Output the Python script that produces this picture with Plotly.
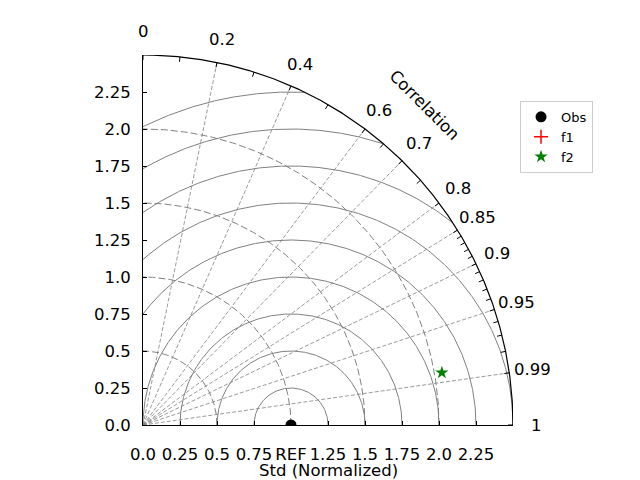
import numpy as np
import plotly.graph_objects as go

# ---------------- data ----------------
model_names = ["Obs", "f1", "f2"]
model_std = [1.0, 2.75, 2.05]
model_corr = [1.0, 0.96, 0.985]
model_colors = ["black", "red", "green"]
model_symbols = ["circle", "cross-thin", "star"]

std_ticks = [0.0, 0.25, 0.5, 0.75, 1.0, 1.25, 1.5, 1.75, 2.0, 2.25]
x_tick_labels = ["0.0", "0.25", "0.5", "0.75", "REF", "1.25", "1.5", "1.75", "2.0", "2.25"]
y_tick_labels = ["0.0", "0.25", "0.5", "0.75", "1.0", "1.25", "1.5", "1.75", "2.0", "2.25"]

corr_major = [0.0, 0.2, 0.4, 0.6, 0.7, 0.8, 0.85, 0.9, 0.95, 0.99, 1.0]
corr_labels = ["0", "0.2", "0.4", "0.6", "0.7", "0.8", "0.85", "0.9", "0.95", "0.99", "1"]
corr_grid = [0.2, 0.4, 0.6, 0.7, 0.8, 0.85, 0.9, 0.95, 0.99]
corr_minor = [0.1, 0.3, 0.5, 0.65, 0.75, 0.86, 0.87, 0.88, 0.89,
              0.91, 0.92, 0.93, 0.94, 0.96, 0.97, 0.98]

std_arcs = [0.5, 1.0, 1.5, 2.0]
rms_arcs = [0.25, 0.5, 0.75, 1.0, 1.25, 1.5, 1.75, 2.0, 2.25]
std_max = 2.5
ref_std = 1.0

FONT = "DejaVu Sans"
fig = go.Figure()

# std dashed arcs
for r in std_arcs:
    t = np.linspace(0, np.pi / 2, 200)
    fig.add_trace(go.Scatter(x=r * np.cos(t), y=r * np.sin(t), mode="lines",
                             line=dict(color="#808080", width=1, dash="7px,3px"),
                             showlegend=False, hoverinfo="skip"))

# RMS solid arcs centered at the reference
for rr in rms_arcs:
    if ref_std + rr > std_max:
        xi = (std_max ** 2 - rr ** 2 + ref_std ** 2) / (2 * ref_std)
        yi = np.sqrt(std_max ** 2 - xi ** 2)
        t0 = np.arctan2(yi, xi - ref_std)
    else:
        t0 = 0.0
    t1 = np.arccos(-ref_std / rr) if rr > ref_std else np.pi
    t = np.linspace(t0, t1, 300)
    fig.add_trace(go.Scatter(x=ref_std + rr * np.cos(t), y=rr * np.sin(t), mode="lines",
                             line=dict(color="#808080", width=1),
                             showlegend=False, hoverinfo="skip"))

# correlation dashed lines
cx, cy = [], []
for c in corr_grid:
    a = np.arccos(c)
    cx += [0, std_max * np.cos(a), None]
    cy += [0, std_max * np.sin(a), None]
fig.add_trace(go.Scatter(x=cx, y=cy, mode="lines",
                         line=dict(color="#808080", width=0.8, dash="4px,2px"),
                         showlegend=False, hoverinfo="skip"))

# outer boundary arc
t = np.linspace(0, np.pi / 2, 400)
fig.add_trace(go.Scatter(x=std_max * np.cos(t), y=std_max * np.sin(t), mode="lines",
                         line=dict(color="black", width=1.2),
                         showlegend=False, hoverinfo="skip"))

# correlation ticks on the outer arc (inward)
tick_len = 5 / 148
tx, ty = [], []
for c in corr_major + corr_minor:
    a = np.arccos(c)
    tx += [std_max * np.cos(a), (std_max - tick_len) * np.cos(a), None]
    ty += [std_max * np.sin(a), (std_max - tick_len) * np.sin(a), None]
fig.add_trace(go.Scatter(x=tx, y=ty, mode="lines", line=dict(color="black", width=1),
                         showlegend=False, hoverinfo="skip"))

# model points
for name, s, c, col, sym in zip(model_names, model_std, model_corr, model_colors, model_symbols):
    a = np.arccos(c)
    if sym == "cross-thin":
        marker = dict(symbol=sym, size=10, color=col, line=dict(color=col, width=1.5))
    elif sym == "star":
        marker = dict(symbol=sym, size=10, color=col, line=dict(width=0))
    else:
        marker = dict(symbol=sym, size=11, color=col, line=dict(width=0))
    fig.add_trace(go.Scatter(x=[s * np.cos(a)], y=[s * np.sin(a)], mode="markers",
                             name=name, marker=marker, cliponaxis=True))

# correlation labels
label_r = 2.66
annotations = []
for c, lab in zip(corr_major, corr_labels):
    a = np.arccos(c)
    annotations.append(dict(x=label_r * np.cos(a) / std_max, y=label_r * np.sin(a) / std_max,
                            xref="paper", yref="paper", text=lab, showarrow=False,
                            xanchor="center", yanchor="middle",
                            font=dict(family=FONT, size=16.5, color="black")))
a_lab = np.radians(48.6)
annotations.append(dict(x=2.88 * np.cos(a_lab) / std_max, y=2.88 * np.sin(a_lab) / std_max,
                        xref="paper", yref="paper", text="Correlation", showarrow=False,
                        textangle=45, xanchor="center", yanchor="middle",
                        font=dict(family=FONT, size=16.5, color="black")))
annotations.append(dict(x=0.5, y=0, xref="paper", yref="paper", yshift=-45,
                        text="Std (Normalized)", showarrow=False,
                        xanchor="center", yanchor="middle",
                        font=dict(family=FONT, size=16.5, color="black")))

fig.update_layout(
    width=640, height=480,
    margin=dict(l=143, r=127, t=55, b=55, autoexpand=False),
    paper_bgcolor="white", plot_bgcolor="white",
    font=dict(family=FONT, size=16.5, color="black"),
    showlegend=True,
    legend=dict(x=1.019, y=0.876, xanchor="left", yanchor="top",
                bordercolor="#cccccc", borderwidth=1, bgcolor="white",
                font=dict(family=FONT, size=13, color="black")),
    annotations=annotations,
)
fig.update_xaxes(range=[0, std_max], tickvals=std_ticks, ticktext=x_tick_labels,
                 showgrid=False, zeroline=False, showline=True, linecolor="black",
                 linewidth=1, ticks="inside", ticklen=4, tickcolor="black", automargin=False,
                 ticklabelstandoff=14, tickfont=dict(family=FONT, size=16.5))
fig.update_yaxes(range=[0, std_max], tickvals=std_ticks, ticktext=y_tick_labels,
                 showgrid=False, zeroline=False, showline=True, linecolor="black",
                 linewidth=1, ticks="inside", ticklen=4, tickcolor="black", automargin=False,
                 ticklabelstandoff=8, tickfont=dict(family=FONT, size=16.5))

fig.write_html("out.html")
